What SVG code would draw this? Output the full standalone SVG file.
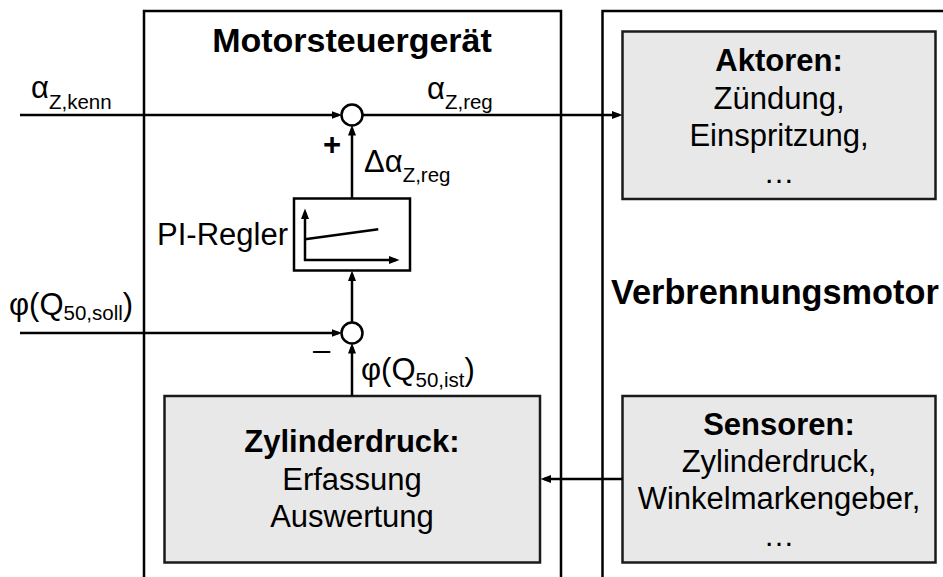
<svg xmlns="http://www.w3.org/2000/svg" width="943" height="577" viewBox="0 0 943 577">
<defs>
<style>
text{font-family:"Liberation Sans",Arial,sans-serif;fill:#000;}
.t{font-size:31px;}
.b{font-size:31px;font-weight:bold;}
.h{font-size:34px;font-weight:bold;}
.s{font-size:20.5px;}
.frame{fill:none;stroke:#000;stroke-width:2.5;}
.box{fill:#e8e8e8;stroke:#1a1a1a;stroke-width:2.5;}
.pi{fill:#fff;stroke:#000;stroke-width:2.5;}
.sum{fill:#fff;stroke:#000;stroke-width:2.5;}
.c{fill:none;stroke:#000;stroke-width:2.5;marker-end:url(#ah);}
.p{fill:none;stroke:#000;stroke-width:2.5;}
</style>
<marker id="ah" markerUnits="userSpaceOnUse" markerWidth="11" markerHeight="9" refX="7" refY="4.5" orient="auto">
<path d="M0,0.5 L10.5,4.5 L0,8.5 z" fill="#000"/>
</marker>
</defs>

<g id="motorsteuergeraet">
<path class="frame" d="M144,580 V11 H561 V580"/>
<text class="h" x="352" y="52" text-anchor="middle">Motorsteuergerät</text>
</g>

<g id="verbrennungsmotor">
<path class="frame" d="M602.5,580 V11 H950"/>
<text class="h" x="611" y="304" style="font-size:34.3px">Verbrennungsmotor</text>
</g>

<g id="aktoren">
<rect class="box" x="622.5" y="31.5" width="313" height="167.5"/>
<text class="b" x="779" y="71" text-anchor="middle">Aktoren:</text>
<text class="t" x="779" y="108.5" text-anchor="middle">Zündung,</text>
<text class="t" x="779" y="145.5" text-anchor="middle">Einspritzung,</text>
<text class="t" x="779" y="182.5" text-anchor="middle">…</text>
</g>

<g id="sensoren">
<rect class="box" x="622.5" y="396" width="313" height="166.5"/>
<text class="b" x="779" y="435" text-anchor="middle">Sensoren:</text>
<text class="t" x="779" y="472" text-anchor="middle">Zylinderdruck,</text>
<text class="t" x="779" y="509" text-anchor="middle">Winkelmarkengeber,</text>
<text class="t" x="779" y="546" text-anchor="middle">…</text>
</g>

<g id="zylinderdruck">
<rect class="box" x="164.5" y="396" width="375.5" height="166.5"/>
<text class="b" x="352" y="452" text-anchor="middle">Zylinderdruck:</text>
<text class="t" x="352" y="489.5" text-anchor="middle">Erfassung</text>
<text class="t" x="352" y="526.5" text-anchor="middle">Auswertung</text>
</g>

<g id="pi-regler">
<rect class="pi" x="294" y="198.5" width="116" height="72"/>
<line class="c" x1="305" y1="261" x2="305" y2="212"/>
<line class="c" x1="304" y1="260" x2="396" y2="260"/>
<line class="p" x1="305" y1="239.3" x2="378.3" y2="229.3"/>
<text class="t" x="288" y="245" text-anchor="end">PI-Regler</text>
</g>

<g id="sum1">
<circle class="sum" cx="352" cy="115" r="10.5"/>
<text class="b" x="332" y="155.3" text-anchor="middle">+</text>
</g>

<g id="sum2">
<circle class="sum" cx="352" cy="333" r="10.5"/>
<text class="t" x="313" y="360">–</text>
</g>

<g id="connectors">
<line class="c" x1="20" y1="115" x2="338.5" y2="115"/>
<line class="c" x1="362.5" y1="115" x2="619" y2="115"/>
<line class="c" x1="352" y1="198.5" x2="352" y2="128.5"/>
<line class="c" x1="20" y1="333" x2="338.5" y2="333"/>
<line class="c" x1="352" y1="396" x2="352" y2="346.5"/>
<line class="c" x1="352" y1="322.5" x2="352" y2="274"/>
<line class="c" x1="622.5" y1="479" x2="544" y2="479"/>
</g>

<g id="labels">
<text class="t" x="31" y="98">α<tspan class="s" dy="10.5">Z,kenn</tspan></text>
<text class="t" x="427" y="98.5">α<tspan class="s" dy="10.5">Z,reg</tspan></text>
<text class="t" x="364" y="171.5">Δα<tspan class="s" dy="10">Z,reg</tspan></text>
<text class="t" x="9" y="314.5">φ(Q<tspan class="s" dy="5.5">50,soll</tspan><tspan dy="-5.5">)</tspan></text>
<text class="t" x="361" y="380">φ(Q<tspan class="s" dy="7">50,ist</tspan><tspan dy="-7">)</tspan></text>
</g>
</svg>
